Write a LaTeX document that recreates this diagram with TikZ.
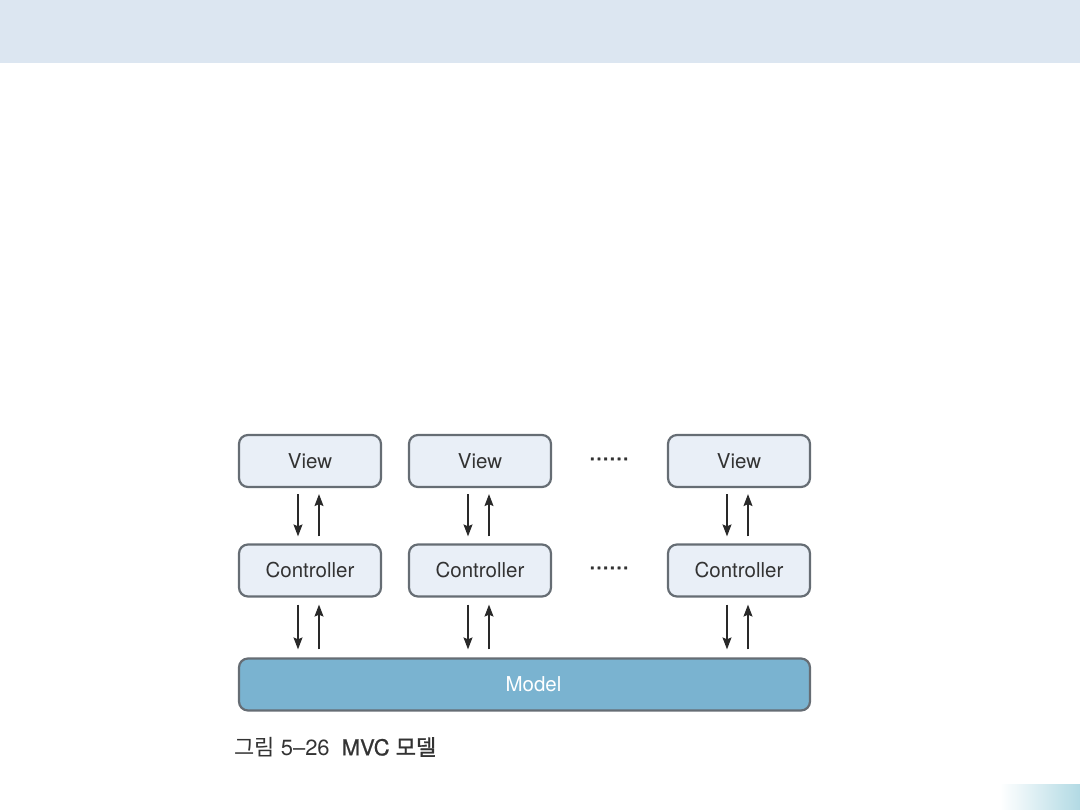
\documentclass[tikz,border=0pt]{standalone}
\usepackage{fontspec}
\setmainfont{TeX Gyre Heros}
\newfontfamily\kr{Noto Sans CJK KR}
\usetikzlibrary{arrows.meta}
\definecolor{bandc}{HTML}{DCE6F1}
\definecolor{boxfill}{HTML}{E9EFF7}
\definecolor{boxline}{HTML}{666D74}
\definecolor{modelfill}{HTML}{7AB3D0}
\definecolor{txt}{HTML}{333333}
\definecolor{stripc}{HTML}{B2DAE4}
\tikzset{
  x=1pt,y=-1pt,
  box/.style={draw=boxline,line width=2.2pt,fill=boxfill,rounded corners=9pt,minimum width=142pt,minimum height=52pt,inner sep=0pt,text=txt,font=\fontsize{20.5}{24}\selectfont},
  modelbox/.style={box,fill=modelfill,text=white,minimum width=571pt},
  conn/.style={line width=1.4pt,-{Stealth[length=12pt,width=9pt,inset=2pt]},txt!80!black},
  dotsl/.style={text=txt,font=\fontsize{24}{26}\selectfont\addfontfeature{FakeBold=1.5},inner sep=0pt}
}
\begin{document}
\begin{tikzpicture}
\useasboundingbox (0,0) rectangle (1080,810);
\fill[bandc] (0,0) rectangle (1080,63);
\shade[left color=white,right color=stripc] (1000,784) rectangle (1080,810);
% views
\node[box] (v1) at (310,461) {View};
\node[box] (v2) at (480,461) {View};
\node[box] (v3) at (739,461) {View};
% controllers
\node[box] (c1) at (310,570.5) {Controller};
\node[box] (c2) at (480,570.5) {Controller};
\node[box] (c3) at (739,570.5) {Controller};
% model
\node[modelbox] (m) at (524.5,684.5) {\hspace*{18pt}Model};
% dots
\node[dotsl] (d1) at (609,459) {......};
\node[dotsl] (d2) at (609,568) {......};
% arrows
\foreach \v/\c in {v1/c1,v2/c2,v3/c3}{
  \draw[conn,shorten <=6pt,shorten >=7pt] ([xshift=-12pt]\v.south) -- ([xshift=-12pt]\c.north);
  \draw[conn,shorten <=7pt,shorten >=6pt] ([xshift=9pt]\c.north) -- ([xshift=9pt]\v.south);
  \draw[conn,shorten <=7pt,shorten >=8pt] ([xshift=-12pt]\c.south) -- ([xshift=-12pt]\c.south |- m.north);
  \draw[conn,shorten <=8pt,shorten >=7pt] ([xshift=9pt]\c.south |- m.north) -- ([xshift=9pt]\c.south);
}
% caption
\node[anchor=west,inner sep=0pt,text=txt,font=\fontsize{22}{26}\selectfont] (cap) at (234,747) {{\kr 그림} 5–26\hspace{12pt}{\addfontfeature{FakeBold=0.8}MVC} {\kr\addfontfeature{FakeBold=1.4}모델}};
\end{tikzpicture}
\end{document}
